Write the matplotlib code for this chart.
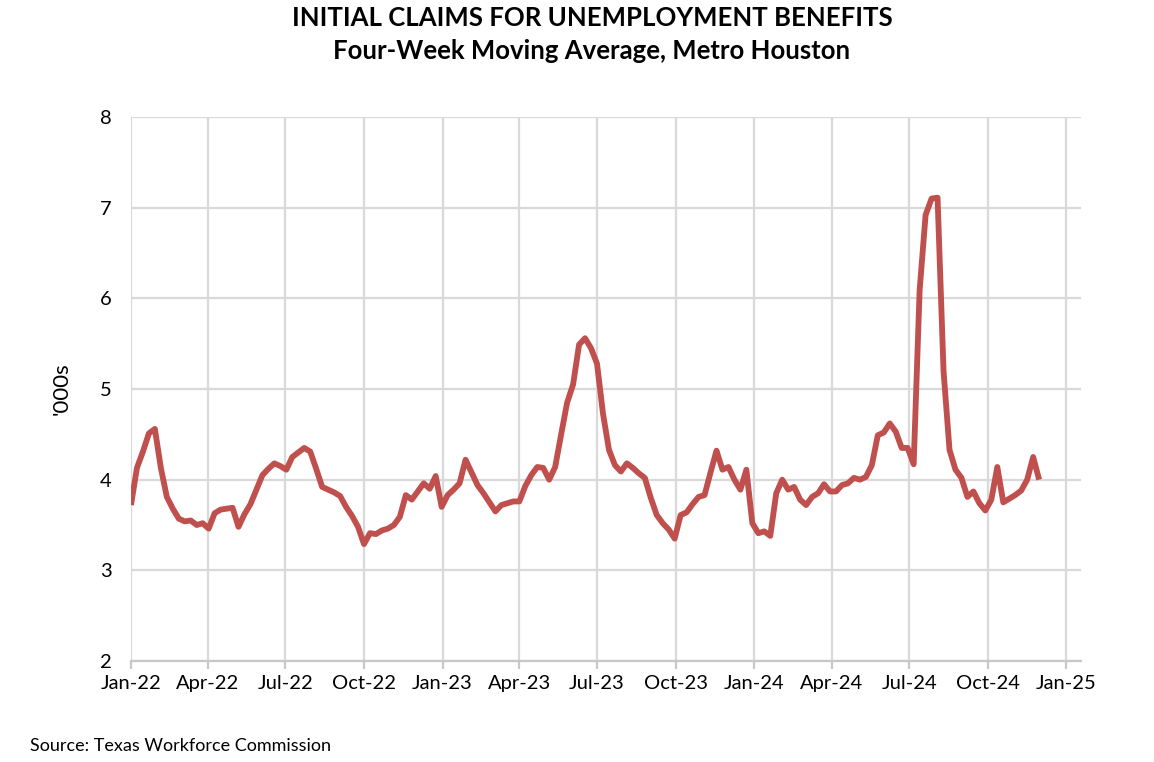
import numpy as np
import pandas as pd
import matplotlib
matplotlib.use("Agg")
import matplotlib.pyplot as plt

plt.rcParams['font.family'] = ['Lato', 'DejaVu Sans']

# weekly four-week moving average, thousands of claims
claims = [
    3.72, 4.13, 4.31, 4.51, 4.56, 4.13, 3.81, 3.68, 3.57, 3.54,
    3.55, 3.50, 3.52, 3.46, 3.63, 3.67, 3.68, 3.69, 3.48, 3.62,
    3.73, 3.89, 4.05, 4.12, 4.18, 4.15, 4.11, 4.25, 4.30, 4.35,
    4.31, 4.12, 3.92, 3.89, 3.86, 3.82, 3.70, 3.60, 3.48, 3.29,
    3.41, 3.40, 3.44, 3.46, 3.50, 3.59, 3.83, 3.78, 3.87, 3.96,
    3.90, 4.04, 3.70, 3.83, 3.89, 3.96, 4.22, 4.08, 3.94, 3.85,
    3.75, 3.65, 3.72, 3.74, 3.76, 3.76, 3.93, 4.05, 4.14, 4.13,
    4.00, 4.14, 4.50, 4.85, 5.05, 5.49, 5.56, 5.45, 5.28, 4.73,
    4.33, 4.16, 4.09, 4.18, 4.13, 4.07, 4.02, 3.80, 3.61, 3.52,
    3.45, 3.35, 3.61, 3.64, 3.73, 3.81, 3.83, 4.08, 4.32, 4.11,
    4.14, 4.00, 3.89, 4.11, 3.52, 3.41, 3.43, 3.38, 3.85, 4.00,
    3.89, 3.92, 3.78, 3.72, 3.81, 3.85, 3.95, 3.87, 3.87, 3.94,
    3.96, 4.02, 4.00, 4.03, 4.16, 4.49, 4.52, 4.62, 4.53, 4.35,
    4.35, 4.17, 6.09, 6.92, 7.10, 7.11, 5.20, 4.33, 4.11, 4.02,
    3.81, 3.87, 3.74, 3.66, 3.78, 4.14, 3.75, 3.79, 3.83, 3.88,
    4.00, 4.25, 4.00,
]
weeks = pd.date_range('2022-01-01', periods=len(claims), freq='7D')

tick_dates = pd.date_range('2022-01-01', '2025-01-01', freq='3MS')
tick_labels = [d.strftime('%b-%y') for d in tick_dates]
y_ticks = [2, 3, 4, 5, 6, 7, 8]

fig = plt.figure(figsize=(11.54, 7.62), dpi=100)
ax = fig.add_axes([0.1135, 0.1325, 0.8232, 0.714])

ax.plot(weeks, claims, color='#C0504D', lw=4.2, solid_joinstyle='round',
        solid_capstyle='butt', zorder=3)

ax.set_xlim(pd.Timestamp('2022-01-01'), pd.Timestamp('2025-01-18'))
ax.set_ylim(2, 8)
ax.set_xticks(tick_dates)
ax.set_xticklabels(tick_labels, fontsize=14.5)
ax.set_yticks(y_ticks)
ax.set_yticklabels([str(v) for v in y_ticks], fontsize=14.5)

grid_c = '#d9d9d9'
ax.grid(True, color=grid_c, lw=1.6, zorder=0)
for s in ['top', 'right', 'left']:
    ax.spines[s].set_visible(False)
ax.spines['bottom'].set_color('#c8c8c8')
ax.spines['bottom'].set_linewidth(1.6)
ax.tick_params(axis='x', length=6, width=1.6, color='#c8c8c8', pad=4)
ax.tick_params(axis='y', length=0, pad=14)

ax.set_ylabel("'000s", fontsize=16, labelpad=20)

fig.text(0.513, 0.976, 'INITIAL CLAIMS FOR UNEMPLOYMENT BENEFITS',
         ha='center', va='center', fontsize=18.5, fontweight='bold')
fig.text(0.513, 0.933, 'Four-Week Moving Average, Metro Houston',
         ha='center', va='center', fontsize=18.5, fontweight='bold')
fig.text(0.026, 0.021, 'Source: Texas Workforce Commission',
         ha='left', va='center', fontsize=13)

fig.savefig('out.png', dpi=100)
